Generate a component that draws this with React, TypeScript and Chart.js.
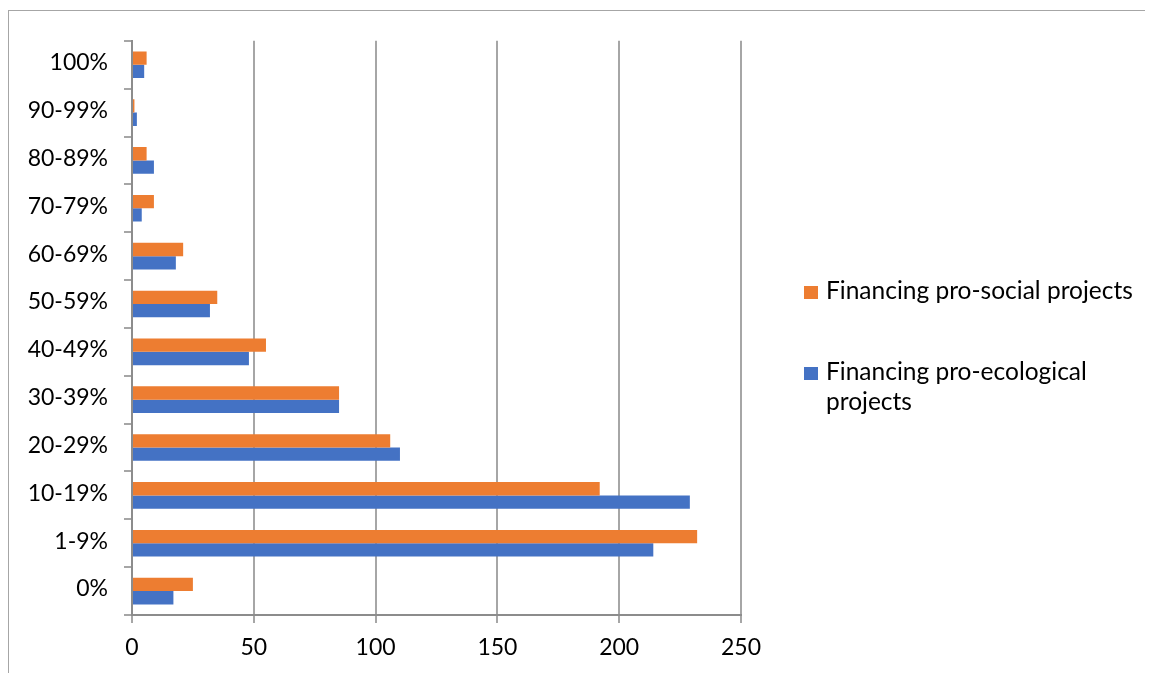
import React, { useEffect, useRef } from "react";
import { Chart, registerables } from "chart.js";

Chart.register(...registerables);

const categories = ["100%", "90-99%", "80-89%", "70-79%", "60-69%", "50-59%", "40-49%", "30-39%", "20-29%", "10-19%", "1-9%", "0%"];
const socialValues = [6, 1, 6, 9, 21, 35, 55, 85, 106, 192, 232, 25];
const ecologicalValues = [5, 2, 9, 4, 18, 32, 48, 85, 110, 229, 214, 17];
const xTickValues = [0, 50, 100, 150, 200, 250];
const socialLabel = "Financing pro-social projects";
const ecologicalLabelLines = ["Financing pro-ecological", "projects"];

const ORANGE = "#ED7D31";
const BLUE = "#4472C4";
const FONT = "Lato, 'Open Sans', sans-serif";
const FONT_SIZE = 23;
const LEGEND_FONT_SIZE = 24.5;

export default function App() {
  const canvasRef = useRef<HTMLCanvasElement | null>(null);

  useEffect(() => {
    if (!canvasRef.current) return;
    const chart = new Chart(canvasRef.current, {
      type: "bar",
      data: {
        labels: categories,
        datasets: [
          {
            label: socialLabel,
            data: socialValues,
            backgroundColor: ORANGE,
            categoryPercentage: 0.556,
            barPercentage: 1,
          },
          {
            label: ecologicalLabelLines.join(" "),
            data: ecologicalValues,
            backgroundColor: BLUE,
            categoryPercentage: 0.556,
            barPercentage: 1,
          },
        ],
      },
      options: {
        indexAxis: "y",
        responsive: false,
        animation: false,
        layout: { padding: { top: 28, right: 427, bottom: 0, left: 0 } },
        plugins: {
          legend: { display: false },
          tooltip: { enabled: false },
        },
        scales: {
          x: {
            min: 0,
            max: 250,
            afterBuildTicks: (scale: any) => {
              scale.ticks = xTickValues.map((v) => ({ value: v }));
            },
            afterFit: (scale: any) => {
              scale.height = 60;
            },
            ticks: {
              color: "#000",
              font: { family: FONT, size: FONT_SIZE },
              padding: 11,
              maxRotation: 0,
            },
            grid: {
              color: "#a6a6a6",
              lineWidth: 2,
              tickLength: 8,
            },
            border: { display: true, color: "#8c8c8c", width: 2 },
          },
          y: {
            afterFit: (scale: any) => {
              scale.width = 123;
            },
            ticks: {
              color: "#000",
              font: { family: FONT, size: FONT_SIZE },
              padding: 16,
              autoSkip: false,
              labelOffset: -2,
            },
            grid: {
              drawOnChartArea: false,
              color: "#a6a6a6",
              lineWidth: 2,
              tickLength: 8,
              offset: true,
            },
            border: { display: true, color: "#8c8c8c", width: 2 },
          },
        },
      },
    });
    return () => chart.destroy();
  }, []);

  const itemText: React.CSSProperties = {
    fontFamily: FONT,
    fontSize: LEGEND_FONT_SIZE,
    lineHeight: "30px",
    color: "#000",
    whiteSpace: "nowrap",
  };
  const square = (c: string): React.CSSProperties => ({
    width: 14,
    height: 13,
    background: c,
    marginTop: 11,
    marginRight: 8,
    flex: "0 0 auto",
  });

  return (
    <>
      <style>{"html, body { overflow: hidden; }"}</style>
      <div
        style={{
          position: "relative",
          top: 2,
          width: 1160,
          height: 665,
          borderTop: "1px solid #a6a6a6",
          borderLeft: "1px solid #a6a6a6",
          boxSizing: "border-box",
          overflow: "hidden",
        }}
      >
        <canvas ref={canvasRef} width={1159} height={664} style={{ position: "absolute", left: 0, top: 0 }} />
        <div style={{ position: "absolute", left: 795, top: 264, display: "flex" }}>
          <div style={square(ORANGE)} />
          <div style={itemText}>{socialLabel}</div>
        </div>
        <div style={{ position: "absolute", left: 795, top: 345, display: "flex" }}>
          <div style={square(BLUE)} />
          <div style={itemText}>
            {ecologicalLabelLines[0]}
            <br />
            {ecologicalLabelLines[1]}
          </div>
        </div>
      </div>
    </>
  );
}
